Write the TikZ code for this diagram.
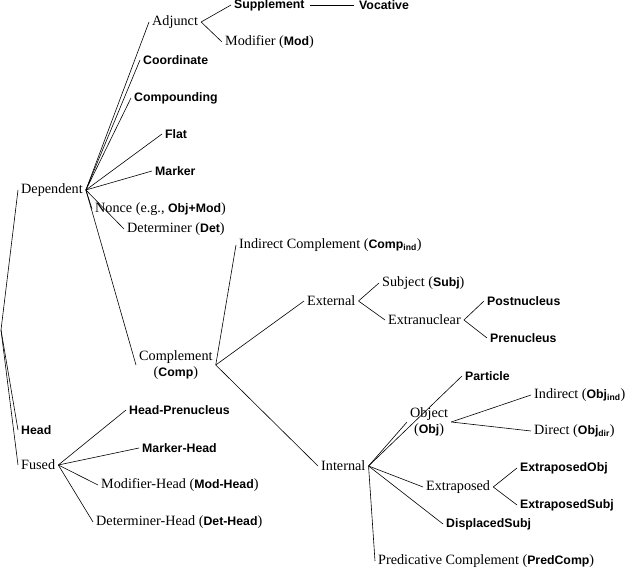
\documentclass[tikz,border=0pt]{standalone}
\usepackage{fontspec}
\setmainfont{Liberation Serif}
\setsansfont{Liberation Sans}
\newcommand{\B}[1]{{\sffamily\bfseries\fontsize{12.3}{14}\selectfont #1}}
\newcommand{\Bs}[1]{\textsubscript{\sffamily\bfseries #1}}
\begin{document}
\begin{tikzpicture}[x=1pt,y=-1pt,
  lab/.style={inner xsep=3pt,inner ysep=1pt,font=\fontsize{14.2}{16}\selectfont,align=center},
  edge/.style={draw=black,line width=0.6pt}]
\useasboundingbox (0,0) rectangle (640,569);
\coordinate (root) at (1,330);
\node[lab,anchor=west] (dep) at (18,190) {Dependent};
\node[lab,anchor=west] (head) at (18,430) {\B{Head}};
\node[lab,anchor=west] (fused) at (18,465) {Fused};
\foreach \c in {dep,head,fused} \draw[edge] (root) -- (\c.west);
% Dependent children
\node[lab,anchor=west] (adj) at (149,22) {Adjunct};
\node[lab,anchor=west] (sup) at (231,5) {\B{Supplement}};
\node[lab,anchor=west] (voc) at (356,5) {\B{Vocative}};
\node[lab,anchor=west] (mod) at (222,42) {Modifier (\B{Mod})};
\node[lab,anchor=west] (coord) at (140,60) {\B{Coordinate}};
\node[lab,anchor=west] (comp) at (131,98) {\B{Compounding}};
\node[lab,anchor=west] (flat) at (162,134) {\B{Flat}};
\node[lab,anchor=west] (mark) at (152,171) {\B{Marker}};
\node[lab,anchor=west] (nonce) at (92,209) {Nonce (e.g., \B{Obj+Mod})};
\node[lab,anchor=west] (det) at (124,229) {Determiner (\B{Det})};
\node[lab,anchor=west] (cmp) at (136,365) {Complement\\(\B{Comp})};
\foreach \c in {adj,coord,comp,flat,mark,nonce,det,cmp} \draw[edge] (dep.east) -- (\c.west);
\draw[edge] (adj.east) -- (sup.west);
\draw[edge] (adj.east) -- (mod.west);
\draw[edge] ([xshift=2pt]sup.east) -- ([xshift=-2pt]voc.west);
% Complement children
\node[lab,anchor=west] (ind) at (236,245) {Indirect Complement (\B{Comp\Bs{ind}})};
\node[lab,anchor=west] (ext) at (304,301) {External};
\node[lab,anchor=west] (int) at (318,466) {Internal};
\foreach \c in {ind,ext,int} \draw[edge] (cmp.east) -- (\c.west);
\node[lab,anchor=west] (subj) at (379,283) {Subject (\B{Subj})};
\node[lab,anchor=west] (extra) at (385,320) {Extranuclear};
\draw[edge] (ext.east) -- (subj.west);
\draw[edge] (ext.east) -- (extra.west);
\node[lab,anchor=west] (post) at (484,301) {\B{Postnucleus}};
\node[lab,anchor=west] (pre) at (487,338) {\B{Prenucleus}};
\draw[edge] (extra.east) -- (post.west);
\draw[edge] (extra.east) -- (pre.west);
% Internal children
\node[lab,anchor=west] (part) at (462,376) {\B{Particle}};
\node[lab,anchor=west] (obj) at (407,422) {Object\\(\B{Obj})};
\node[lab,anchor=west] (xp) at (423,487) {Extraposed};
\node[lab,anchor=west] (disp) at (443,524) {\B{DisplacedSubj}};
\node[lab,anchor=west] (pred) at (375,561) {Predicative Complement (\B{PredComp})};
\foreach \c in {part,obj,xp,disp,pred} \draw[edge] (int.east) -- (\c.west);
\node[lab,anchor=west] (oind) at (531,395) {Indirect (\B{Obj\Bs{ind}})};
\node[lab,anchor=west] (odir) at (531,431) {Direct (\B{Obj\Bs{dir}})};
\draw[edge] (obj.east) -- (oind.west);
\draw[edge] (obj.east) -- (odir.west);
\node[lab,anchor=west] (xobj) at (517,468) {\B{ExtraposedObj}};
\node[lab,anchor=west] (xsubj) at (517,505) {\B{ExtraposedSubj}};
\draw[edge] (xp.east) -- (xobj.west);
\draw[edge] (xp.east) -- (xsubj.west);
% Fused children
\node[lab,anchor=west] (hp) at (126,410) {\B{Head-Prenucleus}};
\node[lab,anchor=west] (mh) at (139,448) {\B{Marker-Head}};
\node[lab,anchor=west] (modh) at (98,485) {Modifier-Head (\B{Mod-Head})};
\node[lab,anchor=west] (deth) at (93,522) {Determiner-Head (\B{Det-Head})};
\foreach \c in {hp,mh,modh,deth} \draw[edge] (fused.east) -- (\c.west);
\end{tikzpicture}
\end{document}
